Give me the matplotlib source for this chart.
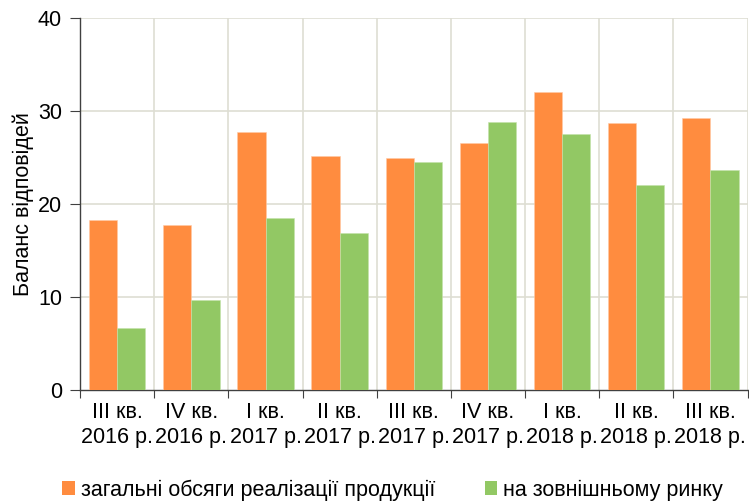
import matplotlib
matplotlib.use("Agg")
import matplotlib.pyplot as plt
import numpy as np
from matplotlib.patches import Patch

plt.rcParams['font.family'] = ['Liberation Sans', 'DejaVu Sans']

categories = ["III кв.\n2016 р.", "IV кв.\n2016 р.", "I кв.\n2017 р.", "II кв.\n2017 р.",
              "III кв.\n2017 р.", "IV кв.\n2017 р.", "I кв.\n2018 р.", "II кв.\n2018 р.",
              "III кв.\n2018 р."]
total_sales = [18.3, 17.7, 27.7, 25.2, 24.9, 26.5, 32.0, 28.7, 29.2]
external_market = [6.6, 9.7, 18.5, 16.9, 24.5, 28.8, 27.5, 22.0, 23.6]
series_names = ["загальні обсяги реалізації продукції", "на зовнішньому ринку"]
ylabel = "Баланс відповідей"

orange = "#FF8C3F"
green = "#92C864"
grid_c = "#DEDED3"
fs = 15.5

fig = plt.figure(figsize=(7.49, 5.01), dpi=100)
ax = fig.add_axes([0.107, 0.222, 0.891, 0.742])

x = np.arange(len(categories))
w = 0.38
ax.bar(x - w / 2, total_sales, width=w, color=orange, zorder=3, edgecolor='#FFC9A6', linewidth=0.4)
ax.bar(x + w / 2, external_market, width=w, color=green, zorder=3, edgecolor='#C4E2AA', linewidth=0.4)

ax.set_xlim(-0.5, len(categories) - 0.5)
ax.set_ylim(0, 40)
ax.set_yticks([0, 10, 20, 30, 40])
for yv in [10, 20, 30, 40]:
    ax.axhline(yv, color=grid_c, lw=1.2, zorder=1)
bounds = np.arange(0.5, len(categories) - 0.5 + 0.01, 1)
for b in bounds:
    ax.axvline(b, color=grid_c, lw=1.2, zorder=1)

ax.set_xticks(np.arange(-0.5, len(categories) - 0.5 + 0.01, 1))
ax.set_xticklabels([])
ax.set_xticks(x, minor=True)
ax.set_xticklabels(categories, minor=True, fontsize=fs, linespacing=1.25)
ax.tick_params(axis='x', which='minor', length=0, pad=9)
ax.tick_params(axis='x', which='major', length=6, direction='out', color='#404040')
ax.tick_params(axis='y', length=7, direction='out', color='#404040', labelsize=fs, pad=6)

for s in ['top', 'right']:
    ax.spines[s].set_visible(False)
for s in ['left', 'bottom']:
    ax.spines[s].set_color('#404040')
    ax.spines[s].set_linewidth(1.0)

ax.set_ylabel(ylabel, fontsize=fs, labelpad=3)

handles = [Patch(facecolor=orange), Patch(facecolor=green)]
fig.legend(handles, series_names, loc='center', bbox_to_anchor=(0.524, 0.022), ncol=2,
           frameon=False, fontsize=fs, handlelength=0.6, handleheight=0.6, handletextpad=0.25,
           columnspacing=2.3, borderpad=0)

fig.savefig("out.png", dpi=100)
